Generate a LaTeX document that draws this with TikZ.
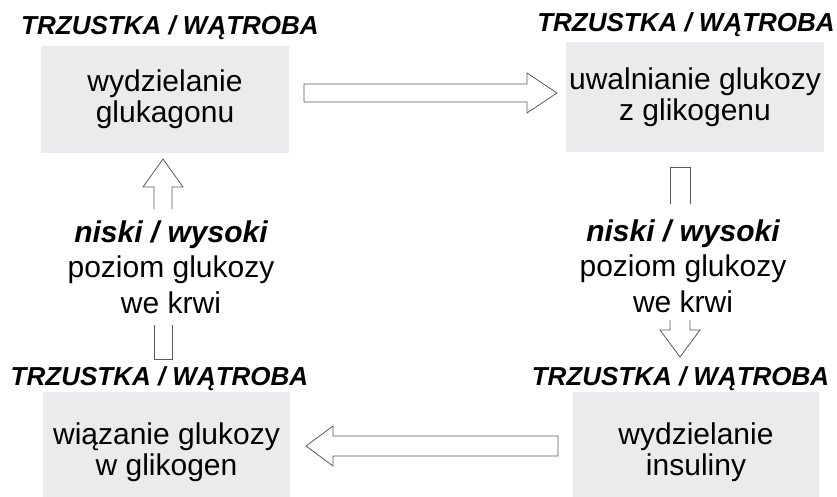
\documentclass[tikz,border=0pt]{standalone}
\usepackage{fontspec}
\setmainfont{Liberation Sans}
\definecolor{boxgray}{RGB}{235,235,237}
\tikzset{
  organ/.style={anchor=base, inner sep=0pt, font=\fontsize{26}{28}\selectfont\bfseries\itshape},
  process/.style={fill=boxgray, align=center, inner sep=0pt, font=\fontsize{30}{31}\selectfont},
  level/.style={align=center, inner sep=0pt, font=\fontsize{30}{35.5}\selectfont},
  blockarrow/.style={draw=black!65, line width=0.8pt}
}

\begin{document}
\begin{tikzpicture}[x=1pt,y=1pt]
\useasboundingbox (0,0) rectangle (837,-497);
\node[process, minimum width=248, minimum height=107] (glukagon) at (165,-99.5) {wydzielanie\\glukagonu};
\node[process, minimum width=258, minimum height=110] (uwalnianie) at (695,-97) {uwalnianie glukozy\\z glikogenu};
\node[process, minimum width=247, minimum height=120] (wiazanie) at (166.5,-452) {wiązanie glukozy\\w glikogen};
\node[process, minimum width=246, minimum height=120] (insulina) at (696,-452) {wydzielanie\\insuliny};
\node[organ] (organglukagon) at (170,-35) {TRZUSTKA / WĄTROBA};
\node[organ] (organuwalnianie) at (686,-32) {TRZUSTKA / WĄTROBA};
\node[organ] (organwiazanie) at (159.5,-385) {TRZUSTKA / WĄTROBA};
\node[organ] (organinsulina) at (680.5,-385) {TRZUSTKA / WĄTROBA};
\node[level] (poziomL) at (171,-267) {{\bfseries\itshape niski / wysoki}\\poziom glukozy\\we krwi};
\node[level] (poziomR) at (683,-266) {{\bfseries\itshape niski / wysoki}\\poziom glukozy\\we krwi};
\coordinate (ogon1) at (304,-93);
\coordinate (ogon2) at (558,-446);
\coordinate (ogon3) at (163,-359);
\coordinate (grot3) at (163,-159);
\coordinate (ogon4) at (680,-167);
\coordinate (grot4) at (680,-357);
\draw[blockarrow] (ogon1) ++(0,9) -- ++(223,0) -- ++(0,11) -- ++(30,-20) -- ++(-30,-20) -- ++(0,11) -- ++(-223,0) -- cycle;
\draw[blockarrow] (ogon2) ++(0,10) -- ++(-225,0) -- ++(0,10) -- ++(-27,-20) -- ++(27,-20) -- ++(0,10) -- ++(225,0) -- cycle;
\draw[blockarrow] (ogon3) ++(-9,34) -- ++(0,-34) -- ++(18,0) -- ++(0,34);
\draw[blockarrow] (grot3) ++(-9,-50) -- ++(0,22) -- ++(-11,0) -- (grot3) -- ++(20,-28) -- ++(-11,0) -- ++(0,-22);
\draw[blockarrow] (ogon4) ++(-10,-37) -- ++(0,37) -- ++(20,0) -- ++(0,-37);
\draw[blockarrow] (grot4) ++(-10,37) -- ++(0,-10) -- ++(-10,0) -- (grot4) -- ++(20,27) -- ++(-10,0) -- ++(0,10);
\end{tikzpicture}
\end{document}
